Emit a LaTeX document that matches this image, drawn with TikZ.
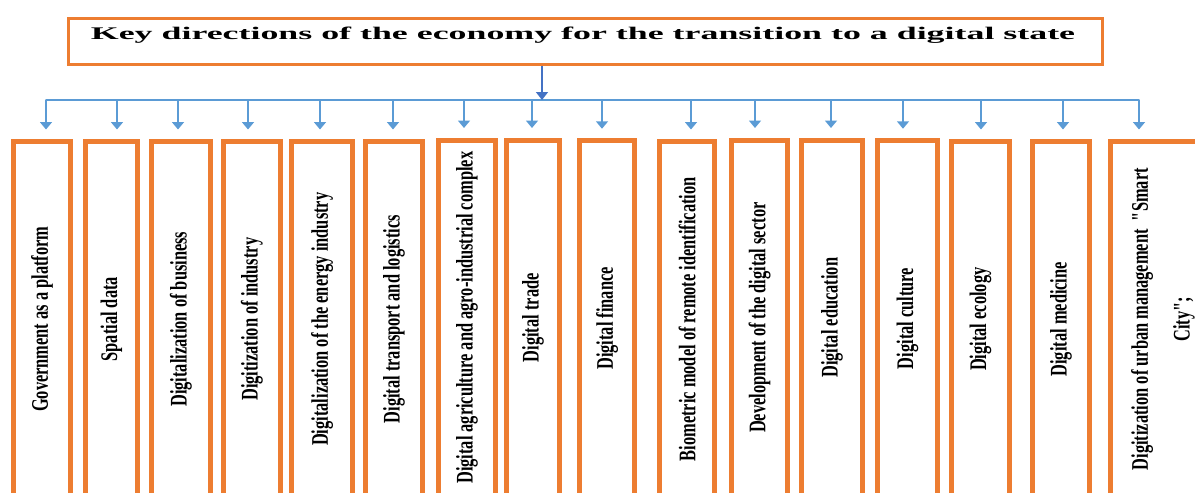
\documentclass[tikz,border=0pt]{standalone}
\usepackage{fontspec}
\setmainfont{Liberation Serif}[Ligatures=TeXOff]
\usetikzlibrary{arrows.meta}
\definecolor{boxorange}{HTML}{ED7D31}
\definecolor{linkblue}{HTML}{5B9BD5}
\definecolor{mainblue}{HTML}{4472C4}
\newcommand{\vtext}[1]{\rotatebox{90}{\scalebox{1}[1.45]{#1}}}
\begin{document}
\begin{tikzpicture}[x=1pt,y=1pt,
  dirbox/.style={draw=boxorange, line width=5pt, fill=white, inner sep=0pt,
    minimum height=355.5pt, font=\bfseries\fontsize{16.4}{19.7}\selectfont},
  titlebox/.style={draw=boxorange, line width=3pt, inner sep=0pt,
    minimum width=1034pt, minimum height=45.5pt},
  link/.style={draw=linkblue, line width=1.6pt},
  droparrow/.style={link, -{Triangle[width=12pt,length=7.5pt]}, shorten >=9.5pt},
  mainarrow/.style={draw=mainblue, line width=1.6pt, -{Triangle[width=12pt,length=8pt]}}
]
\useasboundingbox (0,0) rectangle (1195,-493);
\begin{scope}
\clip (0,0) rectangle (1195,-493);

% title
\node[titlebox] (title) at (585.5,-41.25) {};
\node[anchor=base, inner sep=0pt] (titletext) at (583,-39)
  {\resizebox{984pt}{12.5pt}{\bfseries Key directions of the economy for the transition to a digital state}};

% boxes
\node[dirbox, minimum width=57pt] (b1) at (42,-319.25) {\vtext{Government as a platform}};
\node[dirbox, minimum width=52pt] (b2) at (111.5,-319.25) {\vtext{Spatial data}};
\node[dirbox, minimum width=59pt] (b3) at (181,-319.25) {\vtext{Digitalization of business}};
\node[dirbox, minimum width=57pt] (b4) at (252,-319.25) {\vtext{Digitization of industry}};
\node[dirbox, minimum width=61pt] (b5) at (322,-319.25) {\vtext{Digitalization of the energy industry}};
\node[dirbox, minimum width=57pt] (b6) at (394,-319.25) {\vtext{Digital transport and logistics}};
\node[dirbox, minimum width=57pt] (b7) at (467,-317.75) {\vtext{Digital agriculture and agro-industrial complex}};
\node[dirbox, minimum width=53pt] (b8) at (533,-317.75) {\vtext{Digital trade}};
\node[dirbox, minimum width=55pt] (b9) at (607,-318.5) {\vtext{Digital finance}};
\node[dirbox, minimum width=55pt] (b10) at (687,-319.25) {\vtext{Biometric model of remote identification}};
\node[dirbox, minimum width=56pt] (b11) at (759.5,-317.75) {\vtext{Development of the digital sector}};
\node[dirbox, minimum width=61pt] (b12) at (832,-317.75) {\vtext{Digital education}};
\node[dirbox, minimum width=60pt] (b13) at (907.5,-318.5) {\vtext{Digital culture}};
\node[dirbox, minimum width=58pt] (b14) at (980.5,-319.25) {\vtext{Digital ecology}};
\node[dirbox, minimum width=57pt] (b15) at (1061,-319.25) {\vtext{Digital medicine}};
\node[dirbox, minimum width=105pt] (b16) at (1163,-319.25)
  {\vtext{\begin{tabular}{@{}c@{}}Digitization of urban management\ \ "Smart\\[9pt] City";\end{tabular}}};

% bus and drops
\coordinate (bus) at (542,-100);
\coordinate (t1) at (46,-100);
\coordinate (t2) at (117,-100);
\coordinate (t3) at (178,-100);
\coordinate (t4) at (248,-100);
\coordinate (t5) at (320,-100);
\coordinate (t6) at (393,-100);
\coordinate (t7) at (464,-100);
\coordinate (t8) at (532,-100);
\coordinate (t9) at (602,-100);
\coordinate (t10) at (691,-100);
\coordinate (t11) at (755,-100);
\coordinate (t12) at (831,-100);
\coordinate (t13) at (903,-100);
\coordinate (t14) at (981,-100);
\coordinate (t15) at (1063,-100);
\coordinate (t16) at (1139,-100);

\draw[link, line cap=round] (t1) -- (t16);
\foreach \i in {1,...,16} {
  \draw[droparrow] (t\i) -- (t\i |- b\i.north);
}
\draw[mainarrow] (bus |- title.south) -- (bus);
\end{scope}
\end{tikzpicture}
\end{document}
